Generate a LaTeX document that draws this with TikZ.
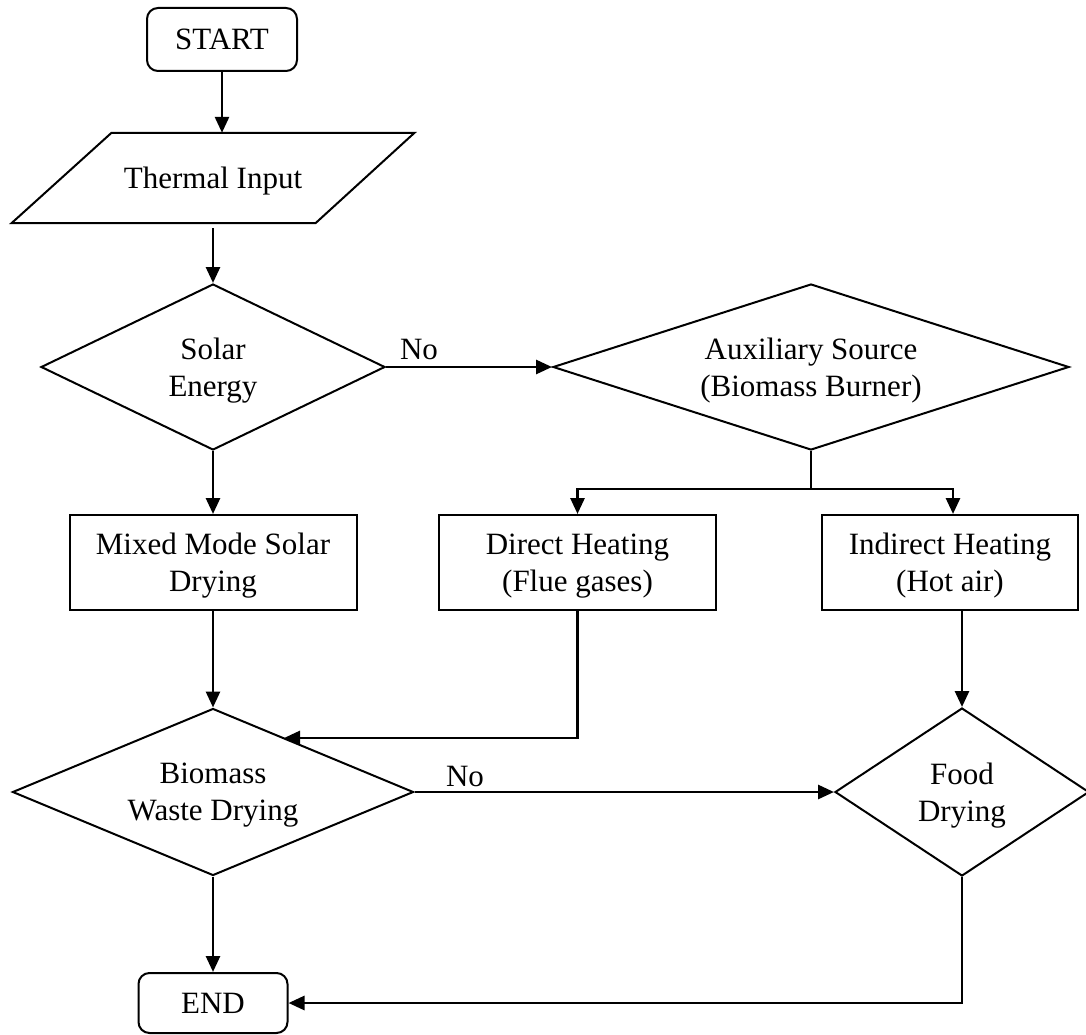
\documentclass[tikz,border=0pt]{standalone}
\usepackage{fontspec}
\setmainfont{Liberation Serif}
\usetikzlibrary{shapes.geometric,arrows.meta}
\begin{document}
\begin{tikzpicture}[x=1pt,y=-1pt,
  every node/.style={font=\fontsize{31}{37}\selectfont, align=center},
  shapeline/.style={line width=2pt},
  textlow/.style={text depth=-5pt},
  terminal/.style={draw, shapeline, textlow, rounded corners=11pt, inner sep=0pt},
  procbox/.style={draw, shapeline, textlow, rectangle, inner sep=0pt},
  decision/.style={draw, shapeline, textlow, diamond, inner sep=0pt},
  flow/.style={line width=2.8pt, -{Triangle[length=16pt,width=14pt]}},
  link/.style={line width=2.4pt},
  lbl/.style={inner sep=0pt}
]
\useasboundingbox (0,0) rectangle (1086,1035);

% terminals
\node[terminal, minimum width=150pt, minimum height=63pt] (start) at (222,39.5) {START};
\node[terminal, minimum width=149pt, minimum height=60pt] (end) at (213,1003) {END};

% input (parallelogram drawn around its text node)
\node[inner sep=0pt, textlow, minimum width=203pt, minimum height=90pt] (thermal) at (213,178) {Thermal Input};
\draw[shapeline] ([xshift=-101.5pt]thermal.north) -- ([xshift=201.5pt]thermal.north)
  -- ([xshift=102.5pt]thermal.south) -- ([xshift=-201.5pt]thermal.south) -- cycle;

% decisions
\node[decision, aspect=2.07, minimum width=344pt, minimum height=166pt] (solar) at (213,367) {Solar\\Energy};
\node[decision, aspect=3.1, minimum width=516pt, minimum height=166pt] (aux) at (811,367) {Auxiliary Source\\(Biomass Burner)};
\node[decision, aspect=2.4, minimum width=401pt, minimum height=167pt] (bio) at (213,792) {Biomass\\Waste Drying};
\node[decision, aspect=1.51, minimum width=254pt, minimum height=168pt] (food) at (962,792) {Food\\Drying};

% processes
\node[procbox, minimum width=287pt, minimum height=95pt] (mixed) at (213,562.5) {Mixed Mode Solar\\Drying};
\node[procbox, minimum width=277pt, minimum height=95pt] (direct) at (577.5,562.5) {Direct Heating\\(Flue gases)};
\node[procbox, minimum width=256pt, minimum height=95pt] (indirect) at (950,562.5) {Indirect Heating\\(Hot air)};

% labels
\node[lbl] (no1) at (419,349) {No};
\node[lbl] (no2) at (465,776) {No};

% helper points
\coordinate (thermout) at ([yshift=-5pt]thermal.south);
\path (aux.south) ++(0,38) coordinate (split);
\coordinate (bioin) at (284,738);

% connectors
\draw[flow] (start.south) -- (start.south |- thermal.north);
\draw[flow] (thermout) -- (solar.north);
\draw[flow] (solar.east) -- (aux.west);
\draw[flow] (solar.south) -- (mixed.north);
\draw[link] (aux.south) -- (split);
\draw[flow] (split) -| (direct.north);
\draw[flow] (split) -| ([xshift=3pt]indirect.north);
\draw[flow] (mixed.south) -- (bio.north);
\draw[flow] (direct.south) |- (bioin);
\draw[flow] ([xshift=12pt]indirect.south) -- (food.north);
\draw[flow] (bio.east) -- (food.west);
\draw[flow] (bio.south) -- (end.north);
\draw[flow] (food.south) |- (end.east);
\end{tikzpicture}
\end{document}
